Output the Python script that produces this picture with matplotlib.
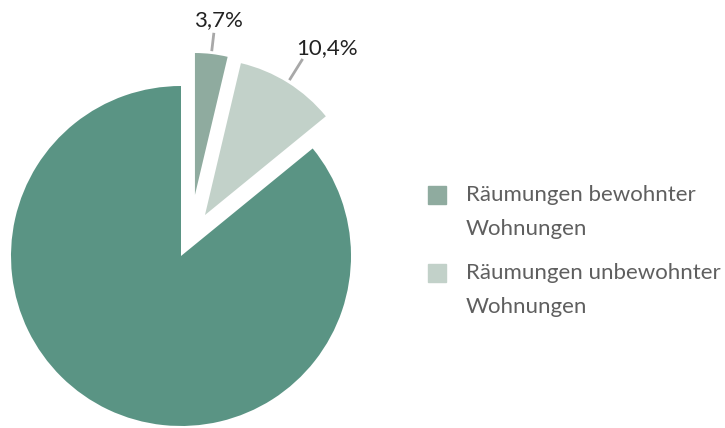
import matplotlib
matplotlib.use("Agg")
import matplotlib.pyplot as plt
import numpy as np
from matplotlib.patches import Rectangle

# Data
shares = [3.7, 10.4, 85.9]
pct_labels = ["3,7%", "10,4%"]
legend_labels = ["Räumungen bewohnter\nWohnungen", "Räumungen unbewohnter\nWohnungen"]
colors = ["#8fab9f", "#c2d1c9", "#5a9484"]

# Wedge layout (data units, big wedge radius = 1)
offsets = [(0.082, 0.359), (0.141, 0.241), (0.0, 0.0)]
radii = [0.835, 0.918, 1.0]

W, H = 725, 428
px = 170.0  # pixels per data unit
cx, cy = 181, 256

plt.rcParams["font.family"] = ["Lato", "DejaVu Sans"]
fig = plt.figure(figsize=(W / 100, H / 100), dpi=100)
ax = fig.add_axes([0, 0, 1, 1])

wedges, _ = ax.pie(shares, colors=colors, startangle=90, counterclock=False,
                   wedgeprops=dict(linewidth=0))
for w, off, r in zip(wedges, offsets, radii):
    w.set_center(off)
    w.set_radius(r)

ax.set_xlim(-cx / px, (W - cx) / px)
ax.set_ylim(-(H - cy) / px, cy / px)
ax.set_aspect("equal")
ax.axis("off")

# Percentage labels with leader lines
for i, lab in enumerate(pct_labels):
    w = wedges[i]
    mid = np.deg2rad((w.theta1 + w.theta2) / 2)
    ox, oy = offsets[i]
    r = radii[i]
    d = np.array([np.cos(mid), np.sin(mid)])
    p0 = np.array([ox, oy]) + d * r * 1.02
    p1 = np.array([ox, oy]) + d * r * (1.15 if i == 0 else 1.18)
    ax.plot([p0[0], p1[0]], [p0[1], p1[1]], color="#a8a8a8", lw=2, solid_capstyle="butt")
    if i == 0:
        ax.annotate(lab, xy=p1, xytext=(5, 3), textcoords="offset pixels",
                    ha="center", va="bottom", fontsize=16, color="#222222")
    else:
        ax.annotate(lab, xy=p1, xytext=(-6, 11), textcoords="offset pixels",
                    ha="left", va="center", fontsize=16, color="#222222")

# Legend
leg_x, leg_y0, leg_step = 428, 186, 78
for i, (lab, col) in enumerate(zip(legend_labels, colors[:2])):
    top = leg_y0 + i * leg_step
    fig.patches.append(Rectangle((leg_x / W, 1 - (top + 18) / H), 18 / W, 18 / H,
                                 transform=fig.transFigure, color=col))
    fig.text(466 / W, 1 - (top - 1) / H, lab, ha="left", va="top", fontsize=16,
             color="#5f5f5f", linespacing=1.85, transform=fig.transFigure)

fig.savefig("out.png", dpi=100)
